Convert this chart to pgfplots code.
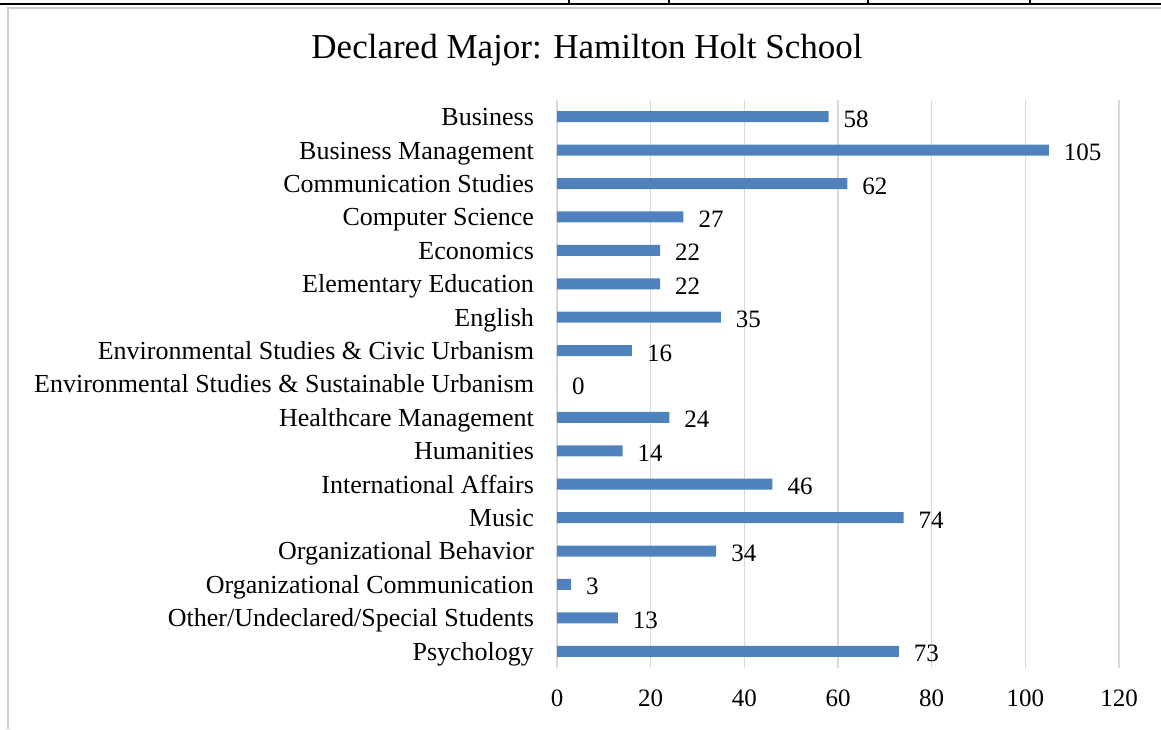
\documentclass[border=0pt]{standalone}
\usepackage{fontspec}
\setmainfont{Liberation Serif}
\usepackage{pgfplots}
\pgfplotsset{compat=1.18}
\definecolor{barblue}{HTML}{4F81BD}
\definecolor{gridgray}{HTML}{D9D9D9}

\begin{document}
\begin{tikzpicture}
  % canvas 1161 x 729 px at 0.5pt per px, origin bottom-left
  \begin{scope}[x=0.5pt,y=0.5pt]
    \useasboundingbox (0,0) rectangle (1161,729);
    \draw[gray!40, line width=0.6pt] (8,0) -- (8,721) -- (1161,721);
    \draw[black, line width=0.9pt] (0,725) -- (1161,725);
    \foreach \xx in {569,669,868,1030} \draw[black, line width=0.6pt] (\xx,725) -- (\xx,729);
    \node[font=\fontsize{17.5}{20}\selectfont] at (587,679) {Declared Major: Hamilton Holt School};
  \end{scope}

  \begin{axis}[
    at={(278.5pt,30.5pt)}, anchor=south west,
    scale only axis,
    width=281pt, height=284pt,
    xbar, bar width=5.5pt,
    xmin=0, xmax=120,
    xtick={0,20,...,120},
    ymin=-0.5, ymax=16.5,
    y dir=reverse,
    ytick={0,...,16},
    yticklabels={Business, Business Management, Communication Studies, Computer Science, Economics, Elementary Education, English, Environmental Studies \& Civic Urbanism, Environmental Studies \& Sustainable Urbanism, Healthcare Management, Humanities, International Affairs, Music, Organizational Behavior, Organizational Communication, Other/Undeclared/Special Students, Psychology},
    yticklabel style={font=\fontsize{13}{15}\selectfont, xshift=-8pt, yshift=-1.2pt, text height=9pt, text depth=2.5pt},
    xticklabel style={font=\fontsize{12.5}{14}\selectfont, yshift=-7.5pt},
    /pgf/number format/assume math mode=true,
    major tick length=0pt,
    axis line style={draw=none},
    xmajorgrids, grid style={gridgray, line width=0.7pt},
    nodes near coords,
    nodes near coords style={font=\fontsize{12.5}{14}\selectfont, anchor=west, xshift=4pt, yshift=-1.5pt, text height=8.5pt, text depth=1pt},
  ]
    \addplot[fill=barblue, draw=none] coordinates {
      (58,0) (105,1) (62,2) (27,3) (22,4) (22,5) (35,6) (16,7) (0,8)
      (24,9) (14,10) (46,11) (74,12) (34,13) (3,14) (13,15) (73,16)
    };
  \end{axis}
\end{tikzpicture}
\end{document}
